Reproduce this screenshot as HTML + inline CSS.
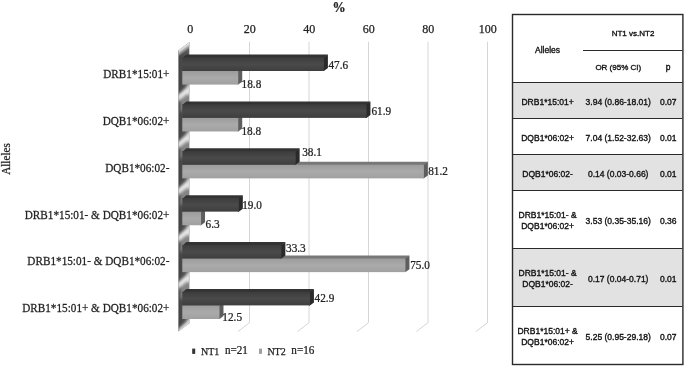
<!DOCTYPE html><html><head><meta charset="utf-8"><style>html,body{margin:0;padding:0;background:#fff;}svg{display:block;will-change:transform}</style></head><body>
<svg width="685" height="366" viewBox="0 0 685 366">
<defs><linearGradient id="g1" x1="0" y1="0" x2="0" y2="1"><stop offset="0" stop-color="#3c3c3c"/><stop offset="0.5" stop-color="#4a4a4a"/><stop offset="1" stop-color="#3e3e3e"/></linearGradient><linearGradient id="g2" x1="0" y1="0" x2="0" y2="1"><stop offset="0" stop-color="#9c9c9c"/><stop offset="0.5" stop-color="#aaaaaa"/><stop offset="1" stop-color="#a0a0a0"/></linearGradient><filter id="bl" x="-50%" y="-50%" width="200%" height="200%"><feGaussianBlur stdDeviation="1.4"/></filter><linearGradient id="gw" x1="0" y1="0" x2="1" y2="0"><stop offset="0" stop-color="#424242"/><stop offset="1" stop-color="#5e5e5e"/></linearGradient><linearGradient id="gt" gradientUnits="userSpaceOnUse" x1="184.2" y1="46.0" x2="187.6" y2="50.6"><stop offset="0" stop-color="#fff" stop-opacity="1"/><stop offset="1" stop-color="#fff" stop-opacity="0"/></linearGradient></defs>
<rect width="685" height="366" fill="#fff"/>
<polyline points="249.50,41.7 249.50,322.7 237.90,331.60" fill="none" stroke="#d6d6d6" stroke-width="1"/>
<polyline points="309.00,41.7 309.00,322.7 297.40,331.60" fill="none" stroke="#d6d6d6" stroke-width="1"/>
<polyline points="368.50,41.7 368.50,322.7 356.90,331.60" fill="none" stroke="#d6d6d6" stroke-width="1"/>
<polyline points="428.00,41.7 428.00,322.7 416.40,331.60" fill="none" stroke="#d6d6d6" stroke-width="1"/>
<polyline points="487.50,41.7 487.50,322.7 475.90,331.60" fill="none" stroke="#d6d6d6" stroke-width="1"/>
<clipPath id="wc"><polygon points="190.0,41.7 190.0,322.7 178.40,331.60 178.40,50.60"/></clipPath>
<polygon points="190.0,41.7 190.0,322.7 178.40,331.60 178.40,50.60" fill="url(#gw)"/>
<g clip-path="url(#wc)"><g filter="url(#bl)">
<polygon points="191.0,88.60 191.0,103.58 180.40,112.48 180.40,100.60" fill="#858585"/>
<polygon points="191.0,83.60 191.0,90.10 177.40,102.10 177.40,95.60" fill="#ececec"/>
<polygon points="187.0,84.60 191.0,84.60 191.0,94.60 187.0,94.60" fill="#e0e0e0"/>
<polygon points="191.0,135.48 191.0,150.46 180.40,159.36 180.40,147.48" fill="#858585"/>
<polygon points="191.0,130.48 191.0,136.98 177.40,148.98 177.40,142.48" fill="#ececec"/>
<polygon points="187.0,131.48 191.0,131.48 191.0,141.48 187.0,141.48" fill="#e0e0e0"/>
<polygon points="191.0,182.36 191.0,197.34 180.40,206.24 180.40,194.36" fill="#858585"/>
<polygon points="191.0,177.36 191.0,183.86 177.40,195.86 177.40,189.36" fill="#ececec"/>
<polygon points="187.0,178.36 191.0,178.36 191.0,188.36 187.0,188.36" fill="#e0e0e0"/>
<polygon points="191.0,229.24 191.0,244.22 180.40,253.12 180.40,241.24" fill="#858585"/>
<polygon points="191.0,224.24 191.0,230.74 177.40,242.74 177.40,236.24" fill="#ececec"/>
<polygon points="187.0,225.24 191.0,225.24 191.0,235.24 187.0,235.24" fill="#e0e0e0"/>
<polygon points="191.0,276.12 191.0,291.10 180.40,300.00 180.40,288.12" fill="#858585"/>
<polygon points="191.0,271.12 191.0,277.62 177.40,289.62 177.40,283.12" fill="#ececec"/>
<polygon points="187.0,272.12 191.0,272.12 191.0,282.12 187.0,282.12" fill="#e0e0e0"/>
<polygon points="191.0,323.00 191.0,337.98 180.40,346.88 180.40,335.00" fill="#858585"/>
<polygon points="191.0,318.00 191.0,324.50 177.40,336.50 177.40,330.00" fill="#ececec"/>
<polygon points="187.0,319.00 191.0,319.00 191.0,329.00 187.0,329.00" fill="#e0e0e0"/>
</g>
<polygon points="190.0,41.7 190.0,55.7 178.40,64.60 178.40,50.60" fill="url(#gt)"/>
<line x1="189.5" y1="41.7" x2="189.5" y2="322.7" stroke="#cfcfcf" stroke-width="1"/>
</g>
<polygon points="182.3,71.80 238.23,71.80 242.23,68.10 186.30,68.10" fill="#787878"/>
<polygon points="237.43,71.00 238.23,71.00 242.23,68.10 242.23,81.70 238.23,84.60 237.43,84.60" fill="#5e5e5e"/>
<rect x="182.3" y="71.00" width="55.93" height="13.6" fill="url(#g2)"/>
<polygon points="182.3,58.20 323.91,58.20 327.91,54.50 186.30,54.50" fill="#333333"/>
<polygon points="323.11,57.40 323.91,57.40 327.91,54.50 327.91,68.10 323.91,71.00 323.11,71.00" fill="#2a2a2a"/>
<rect x="182.3" y="57.40" width="141.61" height="13.6" fill="url(#g1)"/>
<polygon points="182.3,118.68 238.23,118.68 242.23,114.98 186.30,114.98" fill="#787878"/>
<polygon points="237.43,117.88 238.23,117.88 242.23,114.98 242.23,128.58 238.23,131.48 237.43,131.48" fill="#5e5e5e"/>
<rect x="182.3" y="117.88" width="55.93" height="13.6" fill="url(#g2)"/>
<polygon points="182.3,105.08 366.45,105.08 370.45,101.38 186.30,101.38" fill="#333333"/>
<polygon points="365.65,104.28 366.45,104.28 370.45,101.38 370.45,114.98 366.45,117.88 365.65,117.88" fill="#2a2a2a"/>
<rect x="182.3" y="104.28" width="184.15" height="13.6" fill="url(#g1)"/>
<polygon points="182.3,165.56 423.87,165.56 427.87,161.86 186.30,161.86" fill="#787878"/>
<polygon points="423.07,164.76 423.87,164.76 427.87,161.86 427.87,175.46 423.87,178.36 423.07,178.36" fill="#5e5e5e"/>
<rect x="182.3" y="164.76" width="241.57" height="13.6" fill="url(#g2)"/>
<polygon points="182.3,151.96 295.65,151.96 299.65,148.26 186.30,148.26" fill="#333333"/>
<polygon points="294.85,151.16 295.65,151.16 299.65,148.26 299.65,161.86 295.65,164.76 294.85,164.76" fill="#2a2a2a"/>
<rect x="182.3" y="151.16" width="113.35" height="13.6" fill="url(#g1)"/>
<polygon points="182.3,212.44 201.04,212.44 205.04,208.74 186.30,208.74" fill="#787878"/>
<polygon points="200.24,211.64 201.04,211.64 205.04,208.74 205.04,222.34 201.04,225.24 200.24,225.24" fill="#5e5e5e"/>
<rect x="182.3" y="211.64" width="18.74" height="13.6" fill="url(#g2)"/>
<polygon points="182.3,198.84 238.83,198.84 242.83,195.14 186.30,195.14" fill="#333333"/>
<polygon points="238.03,198.04 238.83,198.04 242.83,195.14 242.83,208.74 238.83,211.64 238.03,211.64" fill="#2a2a2a"/>
<rect x="182.3" y="198.04" width="56.53" height="13.6" fill="url(#g1)"/>
<polygon points="182.3,259.32 405.43,259.32 409.43,255.62 186.30,255.62" fill="#787878"/>
<polygon points="404.62,258.52 405.43,258.52 409.43,255.62 409.43,269.22 405.43,272.12 404.62,272.12" fill="#5e5e5e"/>
<rect x="182.3" y="258.52" width="223.12" height="13.6" fill="url(#g2)"/>
<polygon points="182.3,245.72 281.37,245.72 285.37,242.02 186.30,242.02" fill="#333333"/>
<polygon points="280.57,244.92 281.37,244.92 285.37,242.02 285.37,255.62 281.37,258.52 280.57,258.52" fill="#2a2a2a"/>
<rect x="182.3" y="244.92" width="99.07" height="13.6" fill="url(#g1)"/>
<polygon points="182.3,306.20 219.49,306.20 223.49,302.50 186.30,302.50" fill="#787878"/>
<polygon points="218.69,305.40 219.49,305.40 223.49,302.50 223.49,316.10 219.49,319.00 218.69,319.00" fill="#5e5e5e"/>
<rect x="182.3" y="305.40" width="37.19" height="13.6" fill="url(#g2)"/>
<polygon points="182.3,292.60 309.93,292.60 313.93,288.90 186.30,288.90" fill="#333333"/>
<polygon points="309.13,291.80 309.93,291.80 313.93,288.90 313.93,302.50 309.93,305.40 309.13,305.40" fill="#2a2a2a"/>
<rect x="182.3" y="291.80" width="127.63" height="13.6" fill="url(#g1)"/>
<text transform="translate(339.1,12) scale(0.88,1)" font-family="Liberation Serif" fill="#222" stroke="#222" stroke-width="0.25" font-size="15" font-weight="bold" text-anchor="middle">%</text>
<text x="190.30" y="33" font-family="Liberation Serif" fill="#222" stroke="#222" stroke-width="0.25" font-size="12" text-anchor="middle">0</text>
<text x="249.80" y="33" font-family="Liberation Serif" fill="#222" stroke="#222" stroke-width="0.25" font-size="12" text-anchor="middle">20</text>
<text x="309.30" y="33" font-family="Liberation Serif" fill="#222" stroke="#222" stroke-width="0.25" font-size="12" text-anchor="middle">40</text>
<text x="368.80" y="33" font-family="Liberation Serif" fill="#222" stroke="#222" stroke-width="0.25" font-size="12" text-anchor="middle">60</text>
<text x="428.30" y="33" font-family="Liberation Serif" fill="#222" stroke="#222" stroke-width="0.25" font-size="12" text-anchor="middle">80</text>
<text x="487.80" y="33" font-family="Liberation Serif" fill="#222" stroke="#222" stroke-width="0.25" font-size="12" text-anchor="middle">100</text>
<text transform="translate(169.4,77.90) scale(0.935,1)" font-family="Liberation Serif" fill="#222" stroke="#222" stroke-width="0.25" font-size="12" text-anchor="end">DRB1*15:01+</text>
<text transform="translate(169.4,124.78) scale(0.935,1)" font-family="Liberation Serif" fill="#222" stroke="#222" stroke-width="0.25" font-size="12" text-anchor="end">DQB1*06:02+</text>
<text transform="translate(169.4,171.66) scale(0.935,1)" font-family="Liberation Serif" fill="#222" stroke="#222" stroke-width="0.25" font-size="12" text-anchor="end">DQB1*06:02-</text>
<text transform="translate(169.4,218.54) scale(0.935,1)" font-family="Liberation Serif" fill="#222" stroke="#222" stroke-width="0.25" font-size="12" text-anchor="end">DRB1*15:01- &amp; DQB1*06:02+</text>
<text transform="translate(169.4,265.42) scale(0.935,1)" font-family="Liberation Serif" fill="#222" stroke="#222" stroke-width="0.25" font-size="12" text-anchor="end">DRB1*15:01- &amp; DQB1*06:02-</text>
<text transform="translate(169.4,312.30) scale(0.935,1)" font-family="Liberation Serif" fill="#222" stroke="#222" stroke-width="0.25" font-size="12" text-anchor="end">DRB1*15:01+ &amp; DQB1*06:02+</text>
<text transform="translate(328.40000000000003,68.6) scale(0.94,1)" font-family="Liberation Serif" fill="#222" stroke="#222" stroke-width="0.25" font-size="12">47.6</text>
<text transform="translate(371.40000000000003,115) scale(0.94,1)" font-family="Liberation Serif" fill="#222" stroke="#222" stroke-width="0.25" font-size="12">61.9</text>
<text transform="translate(302.20000000000005,156) scale(0.94,1)" font-family="Liberation Serif" fill="#222" stroke="#222" stroke-width="0.25" font-size="12">38.1</text>
<text transform="translate(242.2,208.7) scale(0.94,1)" font-family="Liberation Serif" fill="#222" stroke="#222" stroke-width="0.25" font-size="12">19.0</text>
<text transform="translate(286.0,251.6) scale(0.94,1)" font-family="Liberation Serif" fill="#222" stroke="#222" stroke-width="0.25" font-size="12">33.3</text>
<text transform="translate(314.6,302.1) scale(0.94,1)" font-family="Liberation Serif" fill="#222" stroke="#222" stroke-width="0.25" font-size="12">42.9</text>
<text transform="translate(241.6,87.5) scale(0.94,1)" font-family="Liberation Serif" fill="#222" stroke="#222" stroke-width="0.25" font-size="12">18.8</text>
<text transform="translate(241.4,134.5) scale(0.94,1)" font-family="Liberation Serif" fill="#222" stroke="#222" stroke-width="0.25" font-size="12">18.8</text>
<text transform="translate(428.20000000000005,175.4) scale(0.94,1)" font-family="Liberation Serif" fill="#222" stroke="#222" stroke-width="0.25" font-size="12">81.2</text>
<text transform="translate(205.5,227.6) scale(0.94,1)" font-family="Liberation Serif" fill="#222" stroke="#222" stroke-width="0.25" font-size="12">6.3</text>
<text transform="translate(410.20000000000005,268.7) scale(0.94,1)" font-family="Liberation Serif" fill="#222" stroke="#222" stroke-width="0.25" font-size="12">75.0</text>
<text transform="translate(222.29999999999998,321.4) scale(0.94,1)" font-family="Liberation Serif" fill="#222" stroke="#222" stroke-width="0.25" font-size="12">12.5</text>
<text transform="translate(10,159) rotate(-90) scale(0.93,1)" font-family="Liberation Serif" fill="#222" stroke="#222" stroke-width="0.25" font-size="12" text-anchor="middle">Alleles</text>
<rect x="192.2" y="348.6" width="3" height="5.3" fill="#333"/>
<text x="201" y="355.3" font-family="Liberation Serif" fill="#222" stroke="#222" stroke-width="0.25" font-size="10">NT1</text>
<text transform="translate(224.9,354.3) scale(0.93,1)" font-family="Liberation Serif" fill="#222" stroke="#222" stroke-width="0.25" font-size="12">n=21</text>
<rect x="259" y="348.6" width="3" height="5.3" fill="#a0a0a0"/>
<text x="267.4" y="355.3" font-family="Liberation Serif" fill="#222" stroke="#222" stroke-width="0.25" font-size="10">NT2</text>
<text transform="translate(291.3,354.3) scale(0.93,1)" font-family="Liberation Serif" fill="#222" stroke="#222" stroke-width="0.25" font-size="12">n=16</text>
<rect x="512" y="82" width="170.39999999999998" height="36" fill="#e2e2e2"/>
<rect x="512" y="154" width="170.39999999999998" height="36" fill="#e2e2e2"/>
<rect x="512" y="248" width="170.39999999999998" height="58" fill="#e2e2e2"/>
<line x1="512" y1="82.5" x2="682.4" y2="82.5" stroke="#2a2a2a" stroke-width="1.1"/>
<line x1="512" y1="118.5" x2="682.4" y2="118.5" stroke="#2a2a2a" stroke-width="1.1"/>
<line x1="512" y1="154.5" x2="682.4" y2="154.5" stroke="#2a2a2a" stroke-width="1.1"/>
<line x1="512" y1="190.5" x2="682.4" y2="190.5" stroke="#2a2a2a" stroke-width="1.1"/>
<line x1="512" y1="248.5" x2="682.4" y2="248.5" stroke="#2a2a2a" stroke-width="1.1"/>
<line x1="512" y1="306.5" x2="682.4" y2="306.5" stroke="#2a2a2a" stroke-width="1.1"/>
<line x1="583" y1="50.5" x2="682.4" y2="50.5" stroke="#2a2a2a" stroke-width="1.1"/>
<rect x="512.5" y="14.5" width="170.39999999999998" height="350" fill="none" stroke="#2a2a2a" stroke-width="1.4"/>
<text x="633" y="35.8" font-family="Liberation Sans" fill="#111" stroke="#111" stroke-width="0.35" font-size="8" text-anchor="middle">NT1 vs.NT2</text>
<text x="547.5" y="52.5" font-family="Liberation Sans" fill="#111" stroke="#111" stroke-width="0.35" font-size="8.5" text-anchor="middle">Alleles</text>
<text x="618.3" y="69.8" font-family="Liberation Sans" fill="#111" stroke="#111" stroke-width="0.35" font-size="8" text-anchor="middle">OR (95% CI)</text>
<text x="668" y="69.8" font-family="Liberation Sans" fill="#111" stroke="#111" stroke-width="0.35" font-size="8.5" text-anchor="middle">p</text>
<text x="547.6" y="104.50" font-family="Liberation Sans" fill="#111" stroke="#111" stroke-width="0.35" font-size="8.5" text-anchor="middle">DRB1*15:01+</text>
<text x="618.2" y="104.50" font-family="Liberation Sans" fill="#111" stroke="#111" stroke-width="0.35" font-size="8.5" text-anchor="middle">3.94 (0.86-18.01)</text>
<text x="668.2" y="104.50" font-family="Liberation Sans" fill="#111" stroke="#111" stroke-width="0.35" font-size="8.5" text-anchor="middle">0.07</text>
<text x="547.6" y="140.50" font-family="Liberation Sans" fill="#111" stroke="#111" stroke-width="0.35" font-size="8.5" text-anchor="middle">DQB1*06:02+</text>
<text x="618.2" y="140.50" font-family="Liberation Sans" fill="#111" stroke="#111" stroke-width="0.35" font-size="8.5" text-anchor="middle">7.04 (1.52-32.63)</text>
<text x="668.2" y="140.50" font-family="Liberation Sans" fill="#111" stroke="#111" stroke-width="0.35" font-size="8.5" text-anchor="middle">0.01</text>
<text x="547.6" y="176.50" font-family="Liberation Sans" fill="#111" stroke="#111" stroke-width="0.35" font-size="8.5" text-anchor="middle">DQB1*06:02-</text>
<text x="618.2" y="176.50" font-family="Liberation Sans" fill="#111" stroke="#111" stroke-width="0.35" font-size="8.5" text-anchor="middle">0.14 (0.03-0.66)</text>
<text x="668.2" y="176.50" font-family="Liberation Sans" fill="#111" stroke="#111" stroke-width="0.35" font-size="8.5" text-anchor="middle">0.01</text>
<text x="547.6" y="218.00" font-family="Liberation Sans" fill="#111" stroke="#111" stroke-width="0.35" font-size="8.5" text-anchor="middle">DRB1*15:01- &amp;</text>
<text x="547.6" y="229.00" font-family="Liberation Sans" fill="#111" stroke="#111" stroke-width="0.35" font-size="8.5" text-anchor="middle">DQB1*06:02+</text>
<text x="618.2" y="223.50" font-family="Liberation Sans" fill="#111" stroke="#111" stroke-width="0.35" font-size="8.5" text-anchor="middle">3.53 (0.35-35.16)</text>
<text x="668.2" y="223.50" font-family="Liberation Sans" fill="#111" stroke="#111" stroke-width="0.35" font-size="8.5" text-anchor="middle">0.36</text>
<text x="547.6" y="276.00" font-family="Liberation Sans" fill="#111" stroke="#111" stroke-width="0.35" font-size="8.5" text-anchor="middle">DRB1*15:01- &amp;</text>
<text x="547.6" y="287.00" font-family="Liberation Sans" fill="#111" stroke="#111" stroke-width="0.35" font-size="8.5" text-anchor="middle">DQB1*06:02-</text>
<text x="618.2" y="281.50" font-family="Liberation Sans" fill="#111" stroke="#111" stroke-width="0.35" font-size="8.5" text-anchor="middle">0.17 (0.04-0.71)</text>
<text x="668.2" y="281.50" font-family="Liberation Sans" fill="#111" stroke="#111" stroke-width="0.35" font-size="8.5" text-anchor="middle">0.01</text>
<text x="547.6" y="334.00" font-family="Liberation Sans" fill="#111" stroke="#111" stroke-width="0.35" font-size="8.5" text-anchor="middle">DRB1*15:01+ &amp;</text>
<text x="547.6" y="345.00" font-family="Liberation Sans" fill="#111" stroke="#111" stroke-width="0.35" font-size="8.5" text-anchor="middle">DQB1*06:02+</text>
<text x="618.2" y="339.50" font-family="Liberation Sans" fill="#111" stroke="#111" stroke-width="0.35" font-size="8.5" text-anchor="middle">5.25 (0.95-29.18)</text>
<text x="668.2" y="339.50" font-family="Liberation Sans" fill="#111" stroke="#111" stroke-width="0.35" font-size="8.5" text-anchor="middle">0.07</text>
</svg></body></html>
